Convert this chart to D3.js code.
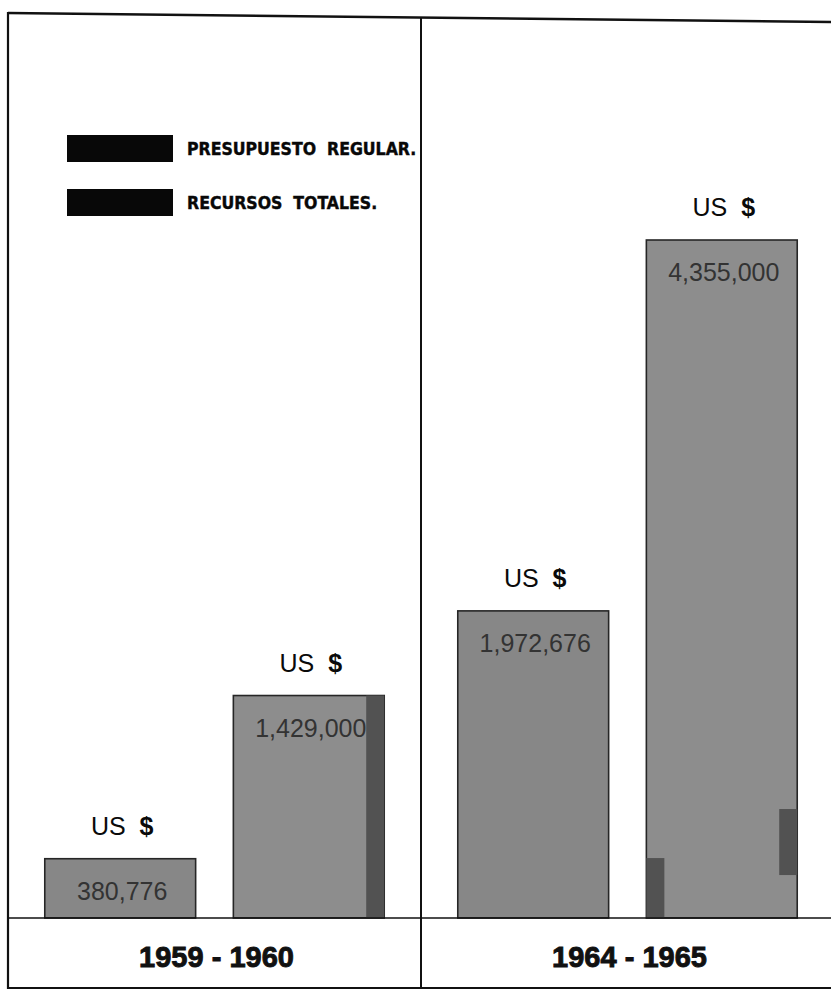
<!DOCTYPE html>
<html>
<head>
<meta charset="utf-8">
<script src="https://cdn.jsdelivr.net/npm/d3@7"></script>
<style>
  html, body { margin: 0; padding: 0; background: #fff; }
  svg { display: block; }
</style>
</head>
<body>
<svg id="chart" width="831" height="992"></svg>
<script>
// data
var periods = ['1959 - 1960', '1964 - 1965'];
var seriesKeys = ['regular', 'totales'];
var legendLabels = ['PRESUPUESTO  REGULAR.', 'RECURSOS  TOTALES.'];
var regularValues = [380776, 1972676];
var totalValues = [1429000, 4355000];
var valueLabels = [['380,776', '1,429,000'], ['1,972,676', '4,355,000']];
// darker accent strips painted on some bars: [period, series, side, from, to]
var strips = [
  [0, 1, 'right', 0, 1429000],
  [1, 1, 'left', 0, 385000],
  [1, 1, 'right', 276000, 700000]
];

var svg = d3.select('#chart');
var baseY = 918, topY = 240;

var xPanel = d3.scaleBand().domain(periods).range([8, 834]);
var xBar = d3.scaleBand().domain(seriesKeys).range([0, xPanel.bandwidth()]).paddingInner(0.2).paddingOuter(0.195);
var y = d3.scaleLinear().domain([0, d3.max(totalValues)]).range([baseY, topY]);

var rows = [];
periods.forEach(function(p, i) {
  rows.push({ period: p, key: 'regular', value: regularValues[i], label: valueLabels[i][0] });
  rows.push({ period: p, key: 'totales', value: totalValues[i], label: valueLabels[i][1] });
});

function barX(d) { return xPanel(d.period) + xBar(d.key); }

// bars
svg.append('g').selectAll('rect').data(rows).enter().append('rect')
   .attr('x', barX)
   .attr('y', d => y(d.value))
   .attr('width', xBar.bandwidth())
   .attr('height', d => baseY - y(d.value))
   .attr('fill', d => d.key == 'regular' ? '#878787' : '#8d8d8d')
   .attr('stroke', '#262626')
   .attr('stroke-width', 1.6);

// accent strips
var stripW = 18;
svg.append('g').selectAll('rect').data(strips).enter().append('rect')
   .attr('x', function(s) {
     var x0 = xPanel(periods[s[0]]) + xBar(seriesKeys[s[1]]);
     return s[2] == 'left' ? x0 : x0 + xBar.bandwidth() - stripW;
   })
   .attr('y', s => y(s[4]))
   .attr('width', stripW)
   .attr('height', s => y(s[3]) - y(s[4]))
   .attr('fill', '#525252');

// value labels inside bars
svg.append('g').selectAll('text').data(rows).enter().append('text')
   .attr('x', d => barX(d) + xBar.bandwidth() / 2 + 2)
   .attr('y', d => y(d.value) + 41)
   .attr('text-anchor', 'middle')
   .attr('font-family', "'Liberation Sans', Arial, sans-serif")
   .attr('font-size', 25)
   .attr('fill', '#333')
   .text(d => d.label);

// "US $" labels above bars
var us = svg.append('g').selectAll('text').data(rows).enter().append('text')
   .attr('x', d => barX(d) + xBar.bandwidth() / 2 + 2)
   .attr('y', d => y(d.value) - 24)
   .attr('text-anchor', 'middle')
   .attr('font-family', "'Liberation Sans', Arial, sans-serif")
   .attr('font-size', 25)
   .attr('fill', '#0a0a0a')
   .attr('xml:space', 'preserve');
us.append('tspan').text('US  ');
us.append('tspan').attr('font-weight', 'bold').text('$');

// frame
var frame = svg.append('g').attr('stroke', '#111').attr('fill', 'none');
frame.append('line').attr('x1', 8).attr('y1', 13).attr('x2', 831).attr('y2', 22).attr('stroke-width', 2.5);
frame.append('line').attr('x1', 8).attr('y1', 12).attr('x2', 8).attr('y2', 989).attr('stroke-width', 2.2);
frame.append('line').attr('x1', xPanel(periods[1])).attr('y1', 18).attr('x2', xPanel(periods[1])).attr('y2', 989).attr('stroke-width', 2);
frame.append('line').attr('x1', 8).attr('y1', baseY).attr('x2', 831).attr('y2', baseY).attr('stroke-width', 1.6);
frame.append('line').attr('x1', 8).attr('y1', 988).attr('x2', 831).attr('y2', 988).attr('stroke-width', 2);

// period labels
svg.append('g').selectAll('text').data(periods).enter().append('text')
   .attr('x', d => xPanel(d) + xPanel.bandwidth() / 2 + 2)
   .attr('y', 967)
   .attr('text-anchor', 'middle')
   .attr('font-family', "'Liberation Sans', Arial, sans-serif")
   .attr('font-weight', 'bold')
   .attr('font-size', 29)
   .attr('fill', '#111')
   .attr('stroke', '#111')
   .attr('stroke-width', 0.9)
   .text(d => d);

// legend
var legend = svg.append('g').selectAll('g').data(legendLabels).enter().append('g')
   .attr('transform', (d, i) => 'translate(67,' + (135 + i * 54) + ')');
legend.append('rect').attr('width', 106).attr('height', 27).attr('fill', '#080808');
legend.append('text')
   .attr('x', 120).attr('y', 20)
   .attr('font-family', "'DejaVu Sans Condensed', 'DejaVu Sans', sans-serif")
   .attr('font-weight', 'bold')
   .attr('font-size', 17.5)
   .attr('fill', '#080808')
   .attr('stroke', '#080808')
   .attr('stroke-width', 0.4)
   .attr('xml:space', 'preserve')
   .text(d => d);
</script>
</body>
</html>
